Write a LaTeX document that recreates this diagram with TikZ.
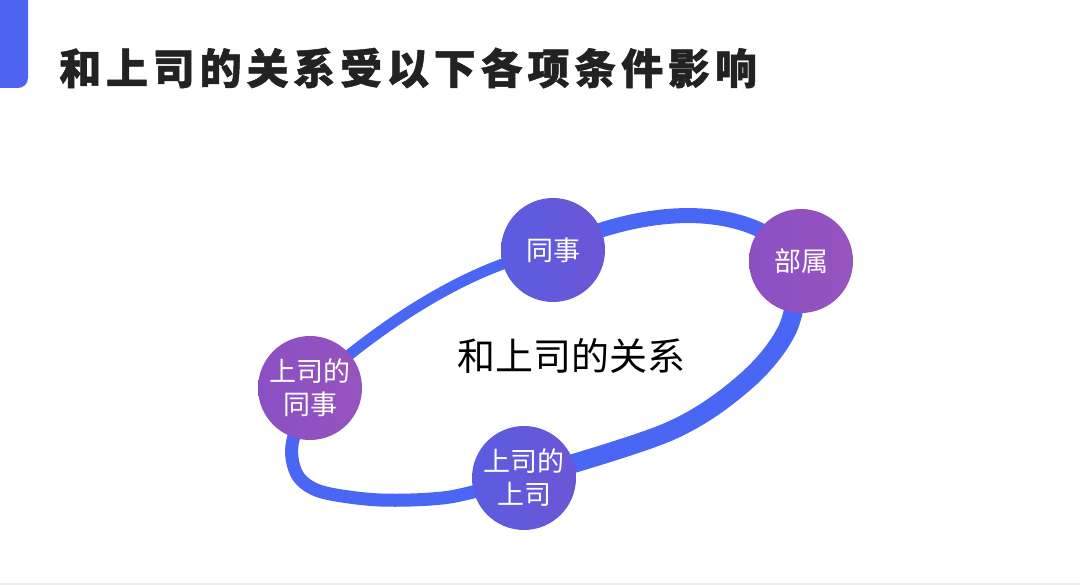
\documentclass[tikz,border=0pt]{standalone}
\usepackage{fontspec}
\newfontfamily\cjk{Noto Sans CJK SC}
\usetikzlibrary{positioning, backgrounds}
\definecolor{barblue}{HTML}{4F63F2}
\definecolor{ringblue}{HTML}{4A66F5}
\definecolor{violetA}{HTML}{5A5CE0}
\definecolor{violetB}{HTML}{6B57D6}
\definecolor{purpleA}{HTML}{8A50C3}
\definecolor{purpleB}{HTML}{9654BE}
\definecolor{titleblack}{HTML}{222222}
\tikzset{
  role/.style={circle, minimum size=104pt, inner sep=0pt, align=center, text=white,
               font=\cjk\fontsize{27}{33}\selectfont},
  violetrole/.style={role, left color=violetA, right color=violetB},
  purplerole/.style={role, left color=purpleA, right color=purpleB},
  ring/.style={draw=ringblue, line cap=round},
}

\begin{document}
\begin{tikzpicture}[x=1pt, y=-1pt]
  \useasboundingbox (0,0) rectangle (1080,585);

  % Title bar and title
  \begin{scope}
    \clip (0,0) rectangle (28,88);
    \fill[barblue, rounded corners=10pt] (-12,-12) rectangle (28,88);
  \end{scope}
  \node[anchor=west, inner sep=0pt, text=titleblack,
        font=\cjk\bfseries\fontsize{42}{42}\selectfont] (title) at (59,68)
        {\addfontfeatures{LetterSpace=11.5, FakeBold=1.2}和上司的关系受以下各项条件影响};

  % Circles
  \node[violetrole] (peer) at (553,250) {同事};
  \node[purplerole] (sub) at (801,261) {部属};
  \node[purplerole] (bpeer) at (310,388) {上司的\\同事};
  \node[violetrole] (bboss) at (524,478) {上司的\\上司};
  \node[font=\cjk\fontsize{38}{38}\selectfont, text=black] (center) at (571,356) {和上司的关系};

  % Ring, behind the circles
  \begin{scope}[on background layer]
    \draw[ring, line width=15pt] (peer.center) .. controls (620,215) and (740,190) .. (sub.center);
    \draw[ring, line width=19pt] plot[smooth, tension=0.55] coordinates
      {(sub.center) (788,328) (745,382) (668,432) (bboss.center)};
    \draw[ring, line width=13pt] plot[smooth] coordinates
      {(bboss.center) (450,497) (380,500) (322,492) (298,476) (292,445) (bpeer.center)};
    \draw[ring, line width=11pt] (bpeer.center) .. controls (380,325) and (470,265) .. (peer.center);
  \end{scope}

  % Bottom rule
  \draw[black!7, line width=1.5pt] (0,584) -- (1080,584);
\end{tikzpicture}
\end{document}
